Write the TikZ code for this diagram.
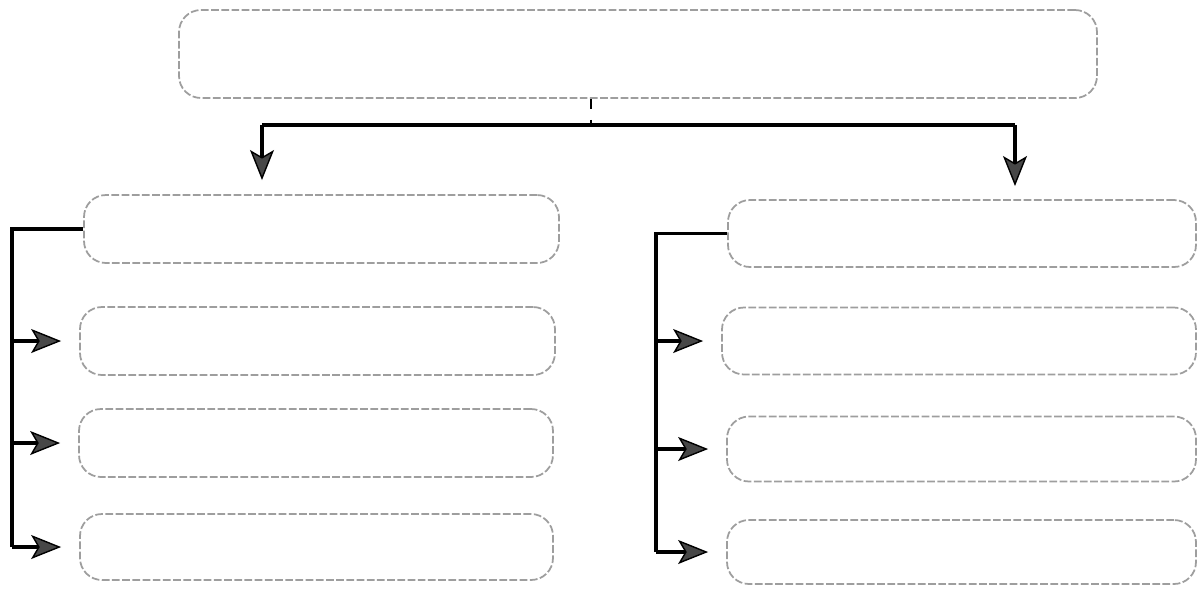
\documentclass[tikz,border=0pt]{standalone}
\usetikzlibrary{arrows.meta}

\tikzset{
  box/.style={draw=black!38, line width=0.5pt, dash pattern=on 2.2pt off 0.7pt,
    rounded corners=0.22cm, minimum height=0.68cm, inner sep=0pt},
  bus/.style={line width=0.9pt},
  feed/.style={line width=0.9pt,
    -{Stealth[length=0.3cm, width=0.24cm, inset=0.07cm, line width=0.4pt, fill=black!72]},
    shorten >=0.18cm}
}

\begin{document}
\begin{tikzpicture}[>=Stealth]
  \useasboundingbox (0,0) rectangle (11.97,-5.88);
  % boxes
  \node[box, minimum width=9.18cm, minimum height=0.88cm] (top) at (6.38,-0.54) {};
  \node[box, minimum width=4.75cm] (L1) at (3.215,-2.29) {};
  \node[box, minimum width=4.75cm] (L2) at (3.175,-3.41) {};
  \node[box, minimum width=4.74cm] (L3) at (3.16,-4.43) {};
  \node[box, minimum width=4.73cm, minimum height=0.66cm] (L4) at (3.165,-5.47) {};
  \node[box, minimum width=4.68cm, minimum height=0.67cm] (R1) at (9.62,-2.335) {};
  \node[box, minimum width=4.74cm, minimum height=0.67cm] (R2) at (9.59,-3.41) {};
  \node[box, minimum width=4.69cm, minimum height=0.65cm] (R3) at (9.615,-4.49) {};
  \node[box, minimum width=4.69cm, minimum height=0.64cm] (R4) at (9.615,-5.52) {};
  % top split
  \coordinate (tj) at (5.91,-1.25);
  \coordinate (ld) at (2.62,-1.80);
  \coordinate (rd) at (10.15,-1.86);
  \draw[dashed, line width=0.5pt] (tj |- top.south) -- (tj);
  \draw[bus] (ld |- tj) -- (rd |- tj);
  \draw[feed, shorten >=0pt] (ld |- tj) -- (ld);
  \draw[feed, shorten >=0pt] (rd |- tj) -- (rd);
  % left column
  \coordinate (lb) at (0.12,-2.29);
  \draw[bus] (L1.west) -- (lb) -- (lb |- L4.west);
  \foreach \n in {L2,L3,L4}
    \draw[feed] (lb |- \n.west) -- (\n.west);
  % right column
  \coordinate (rb) at (6.56,-2.335);
  \draw[bus] (R1.west) -- (rb) -- (rb |- R4.west);
  \foreach \n in {R2,R3,R4}
    \draw[feed] (rb |- \n.west) -- (\n.west);
\end{tikzpicture}
\end{document}
